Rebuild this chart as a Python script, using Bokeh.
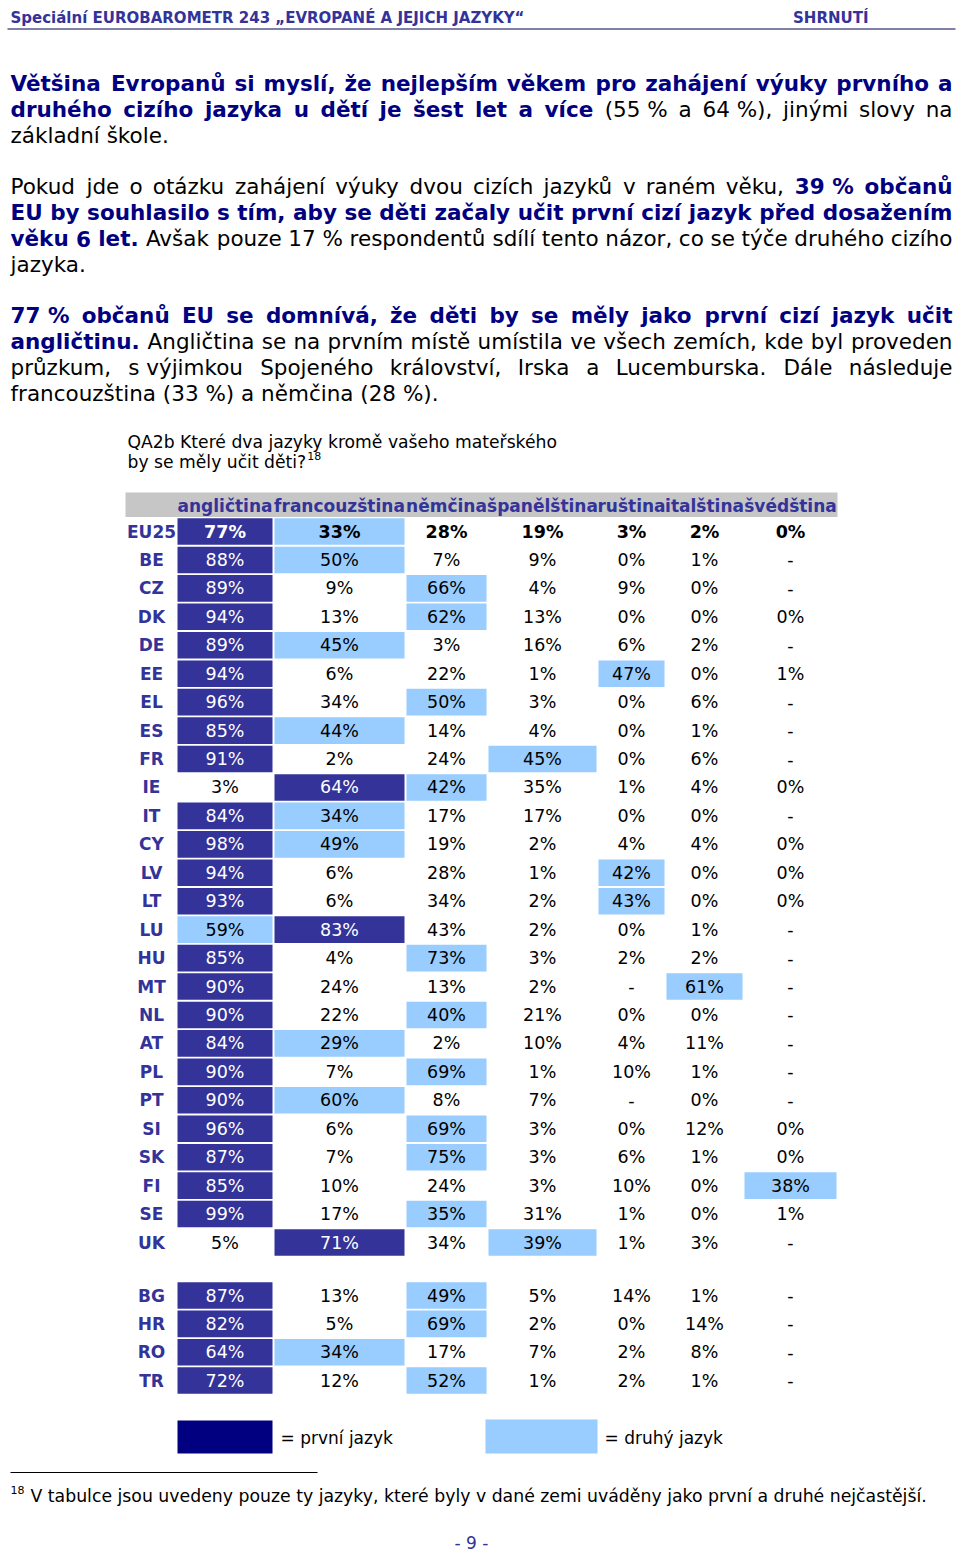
import unicodedata
from bokeh.plotting import figure
from bokeh.models import Range1d, ColumnDataSource
from bokeh.embed import file_html
from bokeh.resources import INLINE
from bokeh.core.properties import value

# ---------------- data ----------------
languages = ["angličtina", "francouzština", "němčina", "španělština",
             "ruština", "italština", "švédština"]
countries_eu = ["EU25", "BE", "CZ", "DK", "DE", "EE", "EL", "ES", "FR", "IE",
                "IT", "CY", "LV", "LT", "LU", "HU", "MT", "NL", "AT", "PL",
                "PT", "SI", "SK", "FI", "SE", "UK"]
countries_other = ["BG", "HR", "RO", "TR"]
N = None  # "-" in the table
v_EU25 = [77, 33, 28, 19, 3, 2, 0]
v_BE = [88, 50, 7, 9, 0, 1, N]
v_CZ = [89, 9, 66, 4, 9, 0, N]
v_DK = [94, 13, 62, 13, 0, 0, 0]
v_DE = [89, 45, 3, 16, 6, 2, N]
v_EE = [94, 6, 22, 1, 47, 0, 1]
v_EL = [96, 34, 50, 3, 0, 6, N]
v_ES = [85, 44, 14, 4, 0, 1, N]
v_FR = [91, 2, 24, 45, 0, 6, N]
v_IE = [3, 64, 42, 35, 1, 4, 0]
v_IT = [84, 34, 17, 17, 0, 0, N]
v_CY = [98, 49, 19, 2, 4, 4, 0]
v_LV = [94, 6, 28, 1, 42, 0, 0]
v_LT = [93, 6, 34, 2, 43, 0, 0]
v_LU = [59, 83, 43, 2, 0, 1, N]
v_HU = [85, 4, 73, 3, 2, 2, N]
v_MT = [90, 24, 13, 2, N, 61, N]
v_NL = [90, 22, 40, 21, 0, 0, N]
v_AT = [84, 29, 2, 10, 4, 11, N]
v_PL = [90, 7, 69, 1, 10, 1, N]
v_PT = [90, 60, 8, 7, N, 0, N]
v_SI = [96, 6, 69, 3, 0, 12, 0]
v_SK = [87, 7, 75, 3, 6, 1, 0]
v_FI = [85, 10, 24, 3, 10, 0, 38]
v_SE = [99, 17, 35, 31, 1, 0, 1]
v_UK = [5, 71, 34, 39, 1, 3, N]
v_BG = [87, 13, 49, 5, 14, 1, N]
v_HR = [82, 5, 69, 2, 0, 14, N]
v_RO = [64, 34, 17, 7, 2, 8, N]
v_TR = [72, 12, 52, 1, 2, 1, N]

rows_eu = [v_EU25, v_BE, v_CZ, v_DK, v_DE, v_EE, v_EL, v_ES, v_FR, v_IE, v_IT,
           v_CY, v_LV, v_LT, v_LU, v_HU, v_MT, v_NL, v_AT, v_PL, v_PT, v_SI,
           v_SK, v_FI, v_SE, v_UK]
rows_other = [v_BG, v_HR, v_RO, v_TR]

# ---------------- texts ----------------
NB = "\u00a0"
header_left = "Speciální EUROBAROMETR 243 „EVROPANÉ A JEJICH JAZYKY“"
header_right = "SHRNUTÍ"
para1 = [
    [("Většina Evropanů si myslí, že nejlepším věkem pro zahájení výuky prvního a", True)],
    [("druhého cizího jazyka u dětí je šest let a více", True),
     ("(55" + NB + "% a 64" + NB + "%), jinými slovy na", False)],
    [("základní škole.", False)],
]
para2 = [
    [("Pokud jde o otázku zahájení výuky dvou cizích jazyků v raném věku,", False),
     ("39" + NB + "% občanů", True)],
    [("EU by souhlasilo s tím, aby se děti začaly učit první cizí jazyk před dosažením", True)],
    [("věku 6 let.", True),
     ("Avšak pouze 17" + NB + "% respondentů sdílí tento názor, co se týče druhého cizího", False)],
    [("jazyka.", False)],
]
para3 = [
    [("77" + NB + "% občanů EU se domnívá, že děti by se měly jako první cizí jazyk učit", True)],
    [("angličtinu.", True),
     ("Angličtina se na prvním místě umístila ve všech zemích, kde byl proveden", False)],
    [("průzkum, s" + NB + "výjimkou Spojeného království, Irska a Lucemburska. Dále následuje", False)],
    [("francouzština (33" + NB + "%) a němčina (28" + NB + "%).", False)],
]
question_lines = ["QA2b Které dva jazyky kromě vašeho mateřského", "by se měly učit děti?"]
footnote_mark = "18"
footnote_text = ("V tabulce jsou uvedeny pouze ty jazyky, které byly v dané zemi "
                 "uváděny jako první a druhé nejčastější.")
legend_first = "= první jazyk"
legend_second = "= druhý jazyk"
page_number = "- 9 -"

# ---------------- styles ----------------
FONT = value("DejaVu Sans")
BLUE = "#333399"
NAVY = "#000080"
DARK = "#333399"
LIGHT = "#99ccff"
GREY = "#c6c6c6"
BLACK = "#000000"

# approximate advance widths (units per 2048 em) for text justification
def _tbl(pairs):
    d = {}
    for chars, w in pairs:
        for c in chars:
            d[c] = w
    return d

REG = _tbl([(" ", 651), ("%", 1946), ("()", 799), (",.", 651), ("-", 739), (":", 690),
            ("?", 1087), ("=", 1716), ("„“", 1063), ("0123456789", 1303),
            ("A", 1401), ("B", 1405), ("C", 1430), ("D", 1577), ("E", 1294), ("F", 1178),
            ("G", 1587), ("H", 1540), ("IJ", 604), ("K", 1343), ("L", 1141), ("M", 1767),
            ("N", 1532), ("OQ", 1612), ("P", 1235), ("R", 1423), ("S", 1300), ("T", 1251),
            ("U", 1499), ("V", 1401), ("W", 2025), ("X", 1403), ("Y", 1251), ("Z", 1403),
            ("a", 1255), ("bdgpq", 1300), ("c", 1126), ("e", 1260), ("f", 721), ("hnu", 1298),
            ("ijl", 569), ("k", 1186), ("m", 1995), ("o", 1253), ("r", 842), ("s", 1067),
            ("t", 803), ("vxy", 1212), ("w", 1675), ("z", 1075)])
BOLD = _tbl([(" ", 713), ("%", 2052), ("()", 934), (",.", 780), ("-", 850), (":", 819),
             ("?", 1186), ("=", 1716), ("„“", 1331), ("0123456789", 1425),
             ("A", 1589), ("B", 1554), ("C", 1493), ("D", 1698), ("EF", 1399), ("G", 1683),
             ("HN", 1716), ("IJ", 760), ("K", 1585), ("L", 1305), ("M", 2030), ("OQ", 1741),
             ("P", 1499), ("R", 1577), ("S", 1479), ("T", 1397), ("U", 1665), ("V", 1589),
             ("W", 2306), ("X", 1587), ("Y", 1511), ("Z", 1482),
             ("a", 1382), ("bdgpq", 1466), ("c", 1214), ("e", 1389), ("f", 891), ("hnu", 1458),
             ("ijl", 702), ("k", 1362), ("m", 2134), ("o", 1407), ("r", 1010), ("s", 1219),
             ("t", 979), ("vy", 1335), ("x", 1321), ("w", 1892), ("z", 1208)])


def text_width(s, bold, size):
    tbl = BOLD if bold else REG
    w = 0
    for ch in s:
        if ch == NB:
            ch = " "
        if ch not in tbl:
            ch = unicodedata.normalize("NFD", ch)[0]
        w += tbl.get(ch, 1250)
    return w * size / 2048.0


groups = {}


def put(x, y, text, size, bold=False, color=BLACK, align="left", baseline="middle"):
    key = (size, bold, align, baseline)
    g = groups.setdefault(key, dict(x=[], y=[], text=[], color=[]))
    g["x"].append(x)
    g["y"].append(y)
    g["text"].append(text)
    g["color"].append(color)


# ---------------- figure (1 data unit = 1 page pixel) ----------------
W, H = 960, 1550
p = figure(width=W, height=H, x_range=Range1d(0, W), y_range=Range1d(H, 0),
           output_backend="svg", toolbar_location=None, x_axis_type=None,
           y_axis_type=None, min_border=0, outline_line_color=None,
           background_fill_color="white", border_fill_color="white")
p.grid.visible = False

# page header
put(10, 17, header_left, 15, True, BLUE)
put(868, 17, header_right, 15, True, BLUE, align="right")
p.segment(x0=[7], y0=[28.5], x1=[955], y1=[28.5], line_color="#56568a", line_width=1.5)

# paragraphs (justified)
PARA_FS = 21.5
PX0, PX1 = 10, 952


def para_line(segments, y, justify):
    if not justify and len(segments) == 1:
        t, b = segments[0]
        put(PX0, y, t, PARA_FS, b, NAVY if b else BLACK)
        return
    words = []
    for t, b in segments:
        for w in t.split(" "):
            words.append((w, b))
    widths = [text_width(w, b, PARA_FS) for w, b in words]
    spaces = [text_width(" ", words[i][1], PARA_FS) for i in range(len(words) - 1)]
    gaps = len(words) - 1
    natural = sum(widths) + sum(spaces)
    extra = (PX1 - PX0 - natural) / gaps if (justify and gaps > 0) else 0
    x = PX0
    for i, (w, b) in enumerate(words):
        col = NAVY if b else BLACK
        if justify and i == gaps:
            put(PX1, y, w, PARA_FS, b, col, align="right")
        else:
            put(x, y, w, PARA_FS, b, col)
        if i < gaps:
            x += widths[i] + spaces[i] + extra


LINE_H = 26
for para, y0 in ((para1, 83), (para2, 186), (para3, 315)):
    for k, segs in enumerate(para):
        para_line(segs, y0 + k * LINE_H, k < len(para) - 1)

# question
Q_FS = 17.2
put(127, 441, question_lines[0], Q_FS)
put(127, 461, question_lines[1], Q_FS)
put(127 + text_width(question_lines[1], False, Q_FS) + 1, 455, footnote_mark, 11)

# ---------------- table ----------------
col_edges = [176, 273, 405, 487, 597, 665, 743, 837]
col_centers = [(col_edges[i] + col_edges[i + 1]) / 2 for i in range(len(languages))]
label_x = 151
HEAD_Y = 505
row_y = ([531 + 28.44 * i for i in range(len(countries_eu))] +
         [1295 + 28.35 * j for j in range(len(countries_other))])
all_countries = countries_eu + countries_other
all_rows = rows_eu + rows_other
HALF = 13.3
TFS = 17
VFS = 17.5

p.quad(left=[125], right=[col_edges[-1]], top=[492], bottom=[516.5],
       fill_color=GREY, line_color=None)
for c, lang in enumerate(languages):
    put(col_centers[c], HEAD_Y, lang, TFS, True, BLUE, align="center")

dark = dict(left=[], right=[], top=[], bottom=[])
light = dict(left=[], right=[], top=[], bottom=[])
for country, vals, y in zip(all_countries, all_rows, row_y):
    order = sorted([i for i, v in enumerate(vals) if v is not None], key=lambda i: -vals[i])
    first, second = order[0], order[1]
    for tgt, ci in ((dark, first), (light, second)):
        tgt["left"].append(col_edges[ci] + 1)
        tgt["right"].append(col_edges[ci + 1] - 1)
        tgt["top"].append(y - HALF)
        tgt["bottom"].append(y + HALF)
    put(label_x, y, country, TFS, True, BLUE, align="center")
    bold = country == "EU25"
    for ci, v in enumerate(vals):
        txt = "-" if v is None else f"{v}%"
        put(col_centers[ci], y, txt, VFS, bold, "#ffffff" if ci == first else BLACK,
            align="center")

p.quad(source=ColumnDataSource(dark), left="left", right="right", top="top",
       bottom="bottom", fill_color=DARK, line_color=None)
p.quad(source=ColumnDataSource(light), left="left", right="right", top="top",
       bottom="bottom", fill_color=LIGHT, line_color=None)

# legend
p.quad(left=[177], right=[272], top=[1420], bottom=[1453], fill_color=NAVY, line_color=None)
p.quad(left=[485], right=[597], top=[1419], bottom=[1453], fill_color=LIGHT, line_color=None)
put(280, 1437, legend_first, TFS)
put(604, 1437, legend_second, TFS)

# footnote
p.segment(x0=[10], y0=[1472], x1=[317], y1=[1472], line_color=BLACK, line_width=1)
put(10, 1489, footnote_mark, 11)
put(30, 1495, footnote_text, 17.3)

# page number
put(471, 1542, page_number, 17, False, BLUE, align="center")

for (size, bold, align, baseline), g in groups.items():
    p.text(x="x", y="y", text="text", text_color="color", source=ColumnDataSource(g),
           text_font=FONT, text_font_size=f"{size}px",
           text_font_style="bold" if bold else "normal",
           text_align=align, text_baseline=baseline)

open("out.html", "w", encoding="utf-8").write(file_html(p, INLINE, title="Eurobarometr 243"))
